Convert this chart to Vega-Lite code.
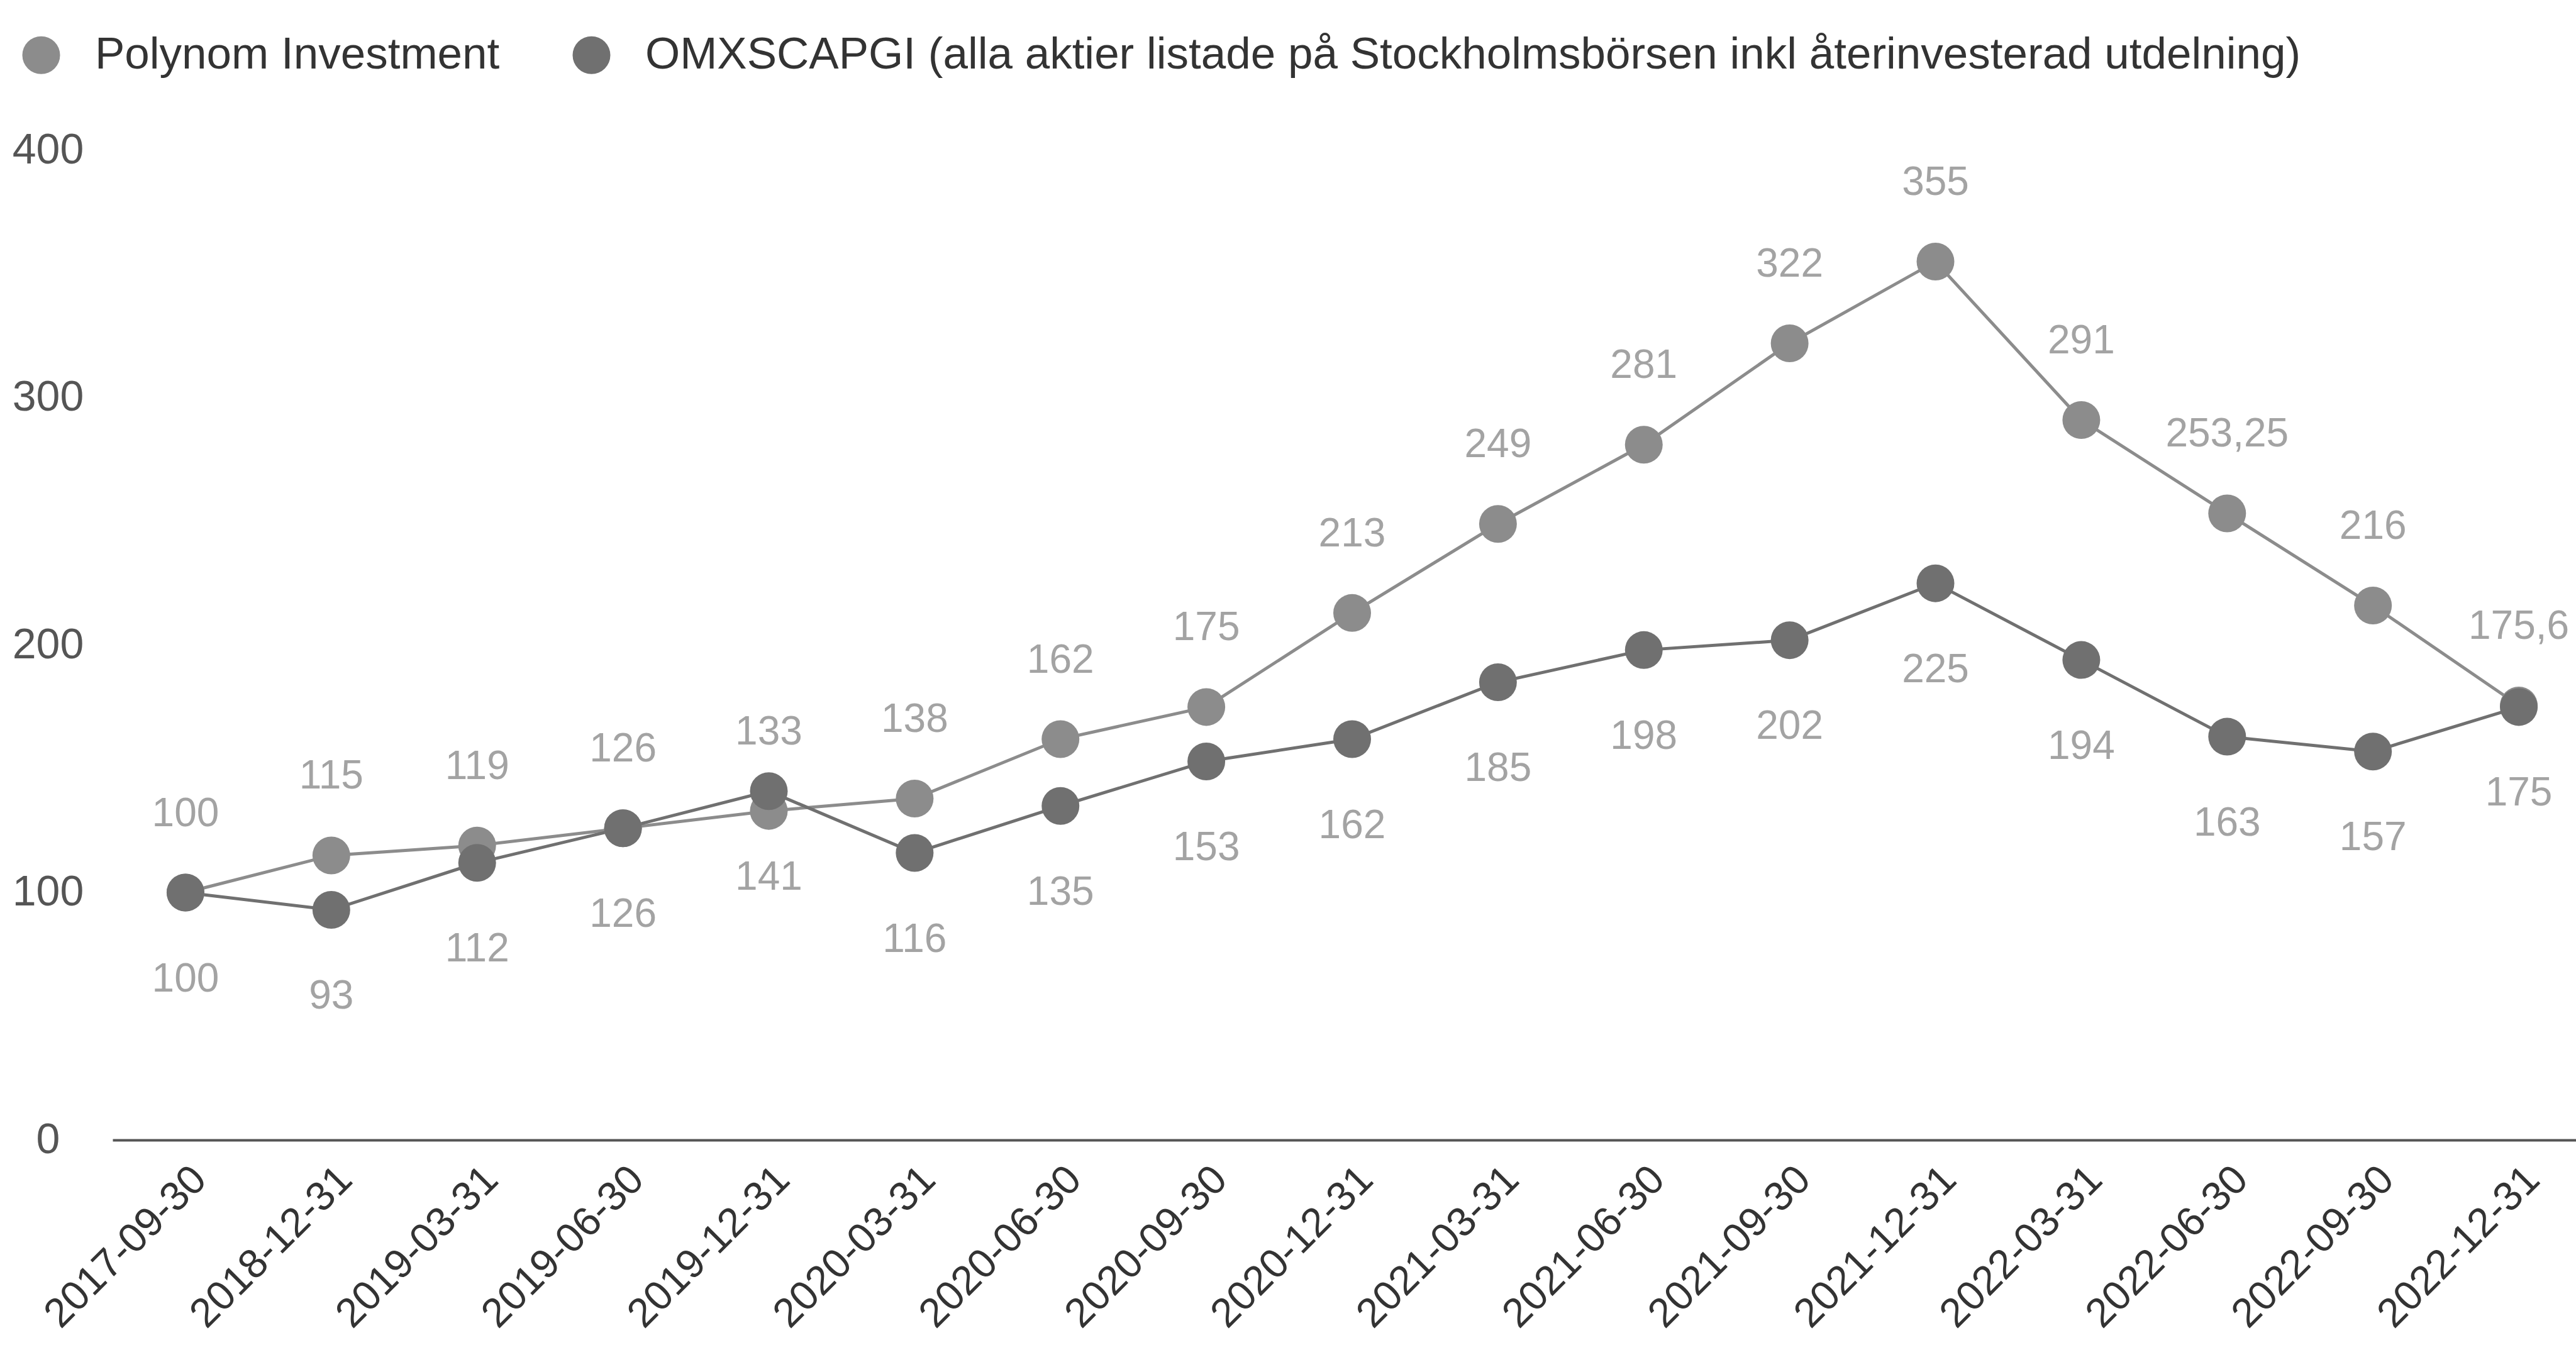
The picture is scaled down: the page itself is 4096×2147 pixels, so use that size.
{
  "$schema": "https://vega.github.io/schema/vega-lite/v6.json",
  "width": 3942,
  "height": 1574,
  "autosize": {"type": "none"},
  "padding": {"left": 179, "top": 239, "right": 0, "bottom": 334},
  "background": "white",
  "config": {
    "view": {"stroke": null},
    "font": "Liberation Sans",
    "locale": {"number": {"decimal": ",", "thousands": " ", "grouping": [3], "currency": ["", " kr"]}}
  },
  "data": {
    "values": [
      {"datum": "2017-09-30", "serie": "Polynom Investment", "value": 100},
      {"datum": "2018-12-31", "serie": "Polynom Investment", "value": 115},
      {"datum": "2019-03-31", "serie": "Polynom Investment", "value": 119},
      {"datum": "2019-06-30", "serie": "Polynom Investment", "value": 126},
      {"datum": "2019-12-31", "serie": "Polynom Investment", "value": 133},
      {"datum": "2020-03-31", "serie": "Polynom Investment", "value": 138},
      {"datum": "2020-06-30", "serie": "Polynom Investment", "value": 162},
      {"datum": "2020-09-30", "serie": "Polynom Investment", "value": 175},
      {"datum": "2020-12-31", "serie": "Polynom Investment", "value": 213},
      {"datum": "2021-03-31", "serie": "Polynom Investment", "value": 249},
      {"datum": "2021-06-30", "serie": "Polynom Investment", "value": 281},
      {"datum": "2021-09-30", "serie": "Polynom Investment", "value": 322},
      {"datum": "2021-12-31", "serie": "Polynom Investment", "value": 355},
      {"datum": "2022-03-31", "serie": "Polynom Investment", "value": 291},
      {"datum": "2022-06-30", "serie": "Polynom Investment", "value": 253.25},
      {"datum": "2022-09-30", "serie": "Polynom Investment", "value": 216},
      {"datum": "2022-12-31", "serie": "Polynom Investment", "value": 175.6},
      {"datum": "2017-09-30", "serie": "OMXSCAPGI (alla aktier listade på Stockholmsbörsen inkl återinvesterad utdelning)", "value": 100},
      {"datum": "2018-12-31", "serie": "OMXSCAPGI (alla aktier listade på Stockholmsbörsen inkl återinvesterad utdelning)", "value": 93},
      {"datum": "2019-03-31", "serie": "OMXSCAPGI (alla aktier listade på Stockholmsbörsen inkl återinvesterad utdelning)", "value": 112},
      {"datum": "2019-06-30", "serie": "OMXSCAPGI (alla aktier listade på Stockholmsbörsen inkl återinvesterad utdelning)", "value": 126},
      {"datum": "2019-12-31", "serie": "OMXSCAPGI (alla aktier listade på Stockholmsbörsen inkl återinvesterad utdelning)", "value": 141},
      {"datum": "2020-03-31", "serie": "OMXSCAPGI (alla aktier listade på Stockholmsbörsen inkl återinvesterad utdelning)", "value": 116},
      {"datum": "2020-06-30", "serie": "OMXSCAPGI (alla aktier listade på Stockholmsbörsen inkl återinvesterad utdelning)", "value": 135},
      {"datum": "2020-09-30", "serie": "OMXSCAPGI (alla aktier listade på Stockholmsbörsen inkl återinvesterad utdelning)", "value": 153},
      {"datum": "2020-12-31", "serie": "OMXSCAPGI (alla aktier listade på Stockholmsbörsen inkl återinvesterad utdelning)", "value": 162},
      {"datum": "2021-03-31", "serie": "OMXSCAPGI (alla aktier listade på Stockholmsbörsen inkl återinvesterad utdelning)", "value": 185},
      {"datum": "2021-06-30", "serie": "OMXSCAPGI (alla aktier listade på Stockholmsbörsen inkl återinvesterad utdelning)", "value": 198},
      {"datum": "2021-09-30", "serie": "OMXSCAPGI (alla aktier listade på Stockholmsbörsen inkl återinvesterad utdelning)", "value": 202},
      {"datum": "2021-12-31", "serie": "OMXSCAPGI (alla aktier listade på Stockholmsbörsen inkl återinvesterad utdelning)", "value": 225},
      {"datum": "2022-03-31", "serie": "OMXSCAPGI (alla aktier listade på Stockholmsbörsen inkl återinvesterad utdelning)", "value": 194},
      {"datum": "2022-06-30", "serie": "OMXSCAPGI (alla aktier listade på Stockholmsbörsen inkl återinvesterad utdelning)", "value": 163},
      {"datum": "2022-09-30", "serie": "OMXSCAPGI (alla aktier listade på Stockholmsbörsen inkl återinvesterad utdelning)", "value": 157},
      {"datum": "2022-12-31", "serie": "OMXSCAPGI (alla aktier listade på Stockholmsbörsen inkl återinvesterad utdelning)", "value": 175}
    ]
  },
  "encoding": {
    "x": {
      "field": "datum",
      "type": "ordinal",
      "sort": null,
      "scale": {"type": "point", "padding": 0.5},
      "axis": {
        "title": null,
        "ticks": false,
        "domain": true,
        "domainColor": "#555555",
        "domainWidth": 4,
        "labelAngle": -45,
        "labelAlign": "right",
        "labelBaseline": "top",
        "labelPadding": 30,
        "labelFontSize": 65,
        "labelLimit": 2000,
        "labelOverlap": false,
        "labelColor": "#333333",
        "labelFont": "Liberation Sans"
      }
    },
    "y": {
      "field": "value",
      "type": "quantitative",
      "scale": {"domain": [0, 400], "nice": false, "zero": true},
      "axis": {
        "title": null,
        "grid": false,
        "domain": false,
        "ticks": false,
        "values": [0, 100, 200, 300, 400],
        "labelAlign": "center",
        "labelPadding": 103,
        "labelFontSize": 68,
        "labelColor": "#555555",
        "labelFont": "Liberation Sans"
      }
    }
  },
  "layer": [
    {
      "mark": {"type": "line", "strokeWidth": 5},
      "encoding": {
        "color": {
          "field": "serie",
          "type": "nominal",
          "scale": {
            "domain": ["Polynom Investment", "OMXSCAPGI (alla aktier listade på Stockholmsbörsen inkl återinvesterad utdelning)"],
            "range": ["#8c8c8c", "#707070"]
          },
          "legend": {
            "orient": "none",
            "legendX": -149,
            "legendY": -187,
            "direction": "horizontal",
            "title": null,
            "padding": 0,
            "symbolType": "circle",
            "symbolSize": 3600,
            "symbolStrokeWidth": 0,
            "symbolOpacity": 1,
            "labelFontSize": 71,
            "labelFont": "Liberation Sans",
            "labelColor": "#333333",
            "labelOffset": 50,
            "labelLimit": 4000,
            "columnPadding": 110,
            "encode": {
              "symbols": {
                "update": {
                  "fill": {"scale": "color", "field": "value"},
                  "stroke": {"value": "transparent"},
                  "opacity": {"value": 1}
                }
              }
            }
          }
        }
      }
    },
    {
      "mark": {"type": "point", "filled": true, "size": 3600, "opacity": 1},
      "encoding": {
        "color": {"field": "serie", "type": "nominal"}
      }
    },
    {
      "transform": [{"filter": "datum.serie === 'Polynom Investment'"}],
      "mark": {"type": "text", "dy": -125, "fontSize": 64, "font": "Liberation Sans", "baseline": "middle", "align": "center"},
      "encoding": {
        "text": {"field": "value", "type": "quantitative", "format": "~f"},
        "color": {"value": "#a3a3a3"}
      }
    },
    {
      "transform": [{"filter": "datum.serie !== 'Polynom Investment'"}],
      "mark": {"type": "text", "dy": 138, "fontSize": 64, "font": "Liberation Sans", "baseline": "middle", "align": "center"},
      "encoding": {
        "text": {"field": "value", "type": "quantitative", "format": "~f"},
        "color": {"value": "#a3a3a3"}
      }
    }
  ]
}
